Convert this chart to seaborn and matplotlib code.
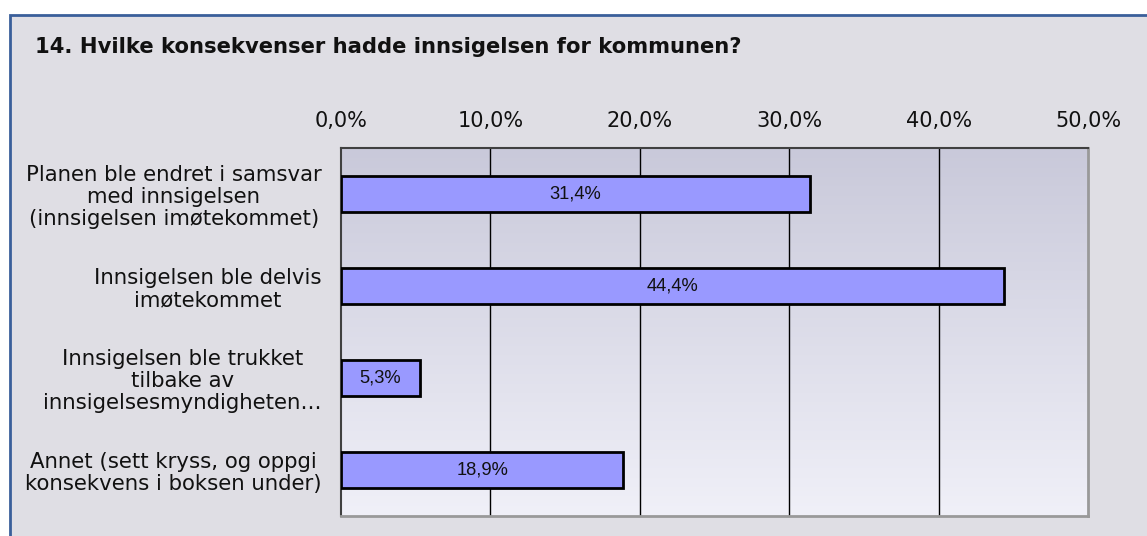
import matplotlib
matplotlib.use("Agg")
import matplotlib.pyplot as plt
import matplotlib.patches as mpatches
import seaborn as sns
import numpy as np
import pandas as pd

# data
kategorier = [
    "Planen ble endret i samsvar\nmed innsigelsen\n(innsigelsen imøtekommet)",
    "Innsigelsen ble delvis\nimøtekommet",
    "Innsigelsen ble trukket\ntilbake av\ninnsigelsesmyndigheten…",
    "Annet (sett kryss, og oppgi\nkonsekvens i boksen under)",
]
andel = [31.4, 44.4, 5.3, 18.9]
xticks = [0, 10, 20, 30, 40, 50]
xtick_labels = ["0,0%", "10,0%", "20,0%", "30,0%", "40,0%", "50,0%"]
tittel = "14. Hvilke konsekvenser hadde innsigelsen for kommunen?"

df = pd.DataFrame({"kategori": kategorier, "andel": andel})

sns.set_style("white")
plt.rcParams['font.family'] = ['DejaVu Sans']

fig = plt.figure(figsize=(11.47, 5.36), dpi=100)
fig.patch.set_facecolor("white")

# grey panel with blue border
panel = mpatches.Rectangle((10 / 1147, -0.05), 1.2, 1 - 15 / 536 + 0.05,
                           transform=fig.transFigure, facecolor="#dfdee4",
                           edgecolor="#3a5f9a", linewidth=2, zorder=-10)
fig.patches.append(panel)

ax = fig.add_axes([341 / 1147, 1 - 516 / 536, (1088 - 341) / 1147, (516 - 148) / 536])
ax.set_facecolor("none")

# gradient background in the plot area
grad = np.linspace(0, 1, 256).reshape(-1, 1)
top = np.array([0xc9, 0xc9, 0xda]) / 255
bot = np.array([0xf0, 0xf0, 0xf8]) / 255
img = top + (bot - top) * grad[..., None]
ax.imshow(img, extent=[0, 50, 3.5, -0.5], aspect="auto", zorder=0)

sns.barplot(data=df, x="andel", y="kategori", orient="h", color="#9999ff",
            edgecolor="black", linewidth=2, width=0.4, saturation=1, ax=ax, zorder=3)

for i, v in enumerate(andel):
    ax.text(v / 2, i, f"{v:.1f}%".replace(".", ","), ha="center", va="center",
            fontsize=13.2, family="Liberation Sans", color="#111111", zorder=4)

ax.set_xlim(0, 50)
ax.set_ylim(3.5, -0.5)
ax.set_xticks(xticks)
ax.set_xticklabels(xtick_labels, fontsize=15, color="#111111")
ax.xaxis.tick_top()
ax.tick_params(axis="x", length=0, pad=12)
ax.tick_params(axis="y", which="major", length=0, pad=14, labelsize=15.3, labelcolor="#111111")
ax.set_yticks([0.5, 1.5, 2.5], minor=True)
ax.tick_params(axis="y", which="minor", direction="in", length=6, width=1, color="#222222")
for lab in ax.get_yticklabels():
    lab.set_multialignment("center")
    lab.set_linespacing(1.12)

for x in [10, 20, 30, 40]:
    ax.axvline(x, color="black", linewidth=1, zorder=1)

ax.set_xlabel("")
ax.set_ylabel("")

for s in ["top", "left"]:
    ax.spines[s].set_color("#404040")
    ax.spines[s].set_linewidth(1.5)
for s in ["right", "bottom"]:
    ax.spines[s].set_color("#999999")
    ax.spines[s].set_linewidth(2)

fig.text(35 / 1147, 1 - 47 / 536, tittel, fontsize=15.2, fontweight="bold",
         ha="left", va="center", color="#111111")

fig.savefig("out.png", dpi=100)
